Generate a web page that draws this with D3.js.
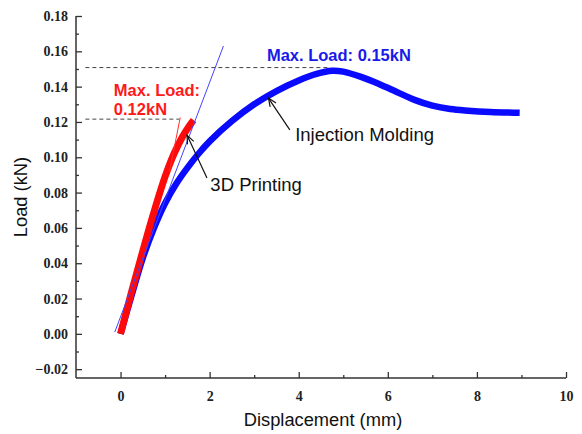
<!DOCTYPE html>
<html><head><meta charset="utf-8">
<script src="https://cdn.jsdelivr.net/npm/d3@7"></script>
<style>body{margin:0;background:#fff;} svg{display:block;}</style>
</head><body>
<svg id="c" width="582" height="434"></svg>
<script>
// Data (displacement mm, load kN)
const injectionX = [0, 0.25, 0.5, 0.75, 1.0, 1.25, 1.5, 1.75, 2.0, 2.5, 3.0, 3.5, 4.0, 4.4, 4.75, 5.0, 5.4, 5.8, 6.2, 6.6, 7.0, 7.4, 7.8, 8.3, 8.96];
const injectionY = [0, 0.022, 0.043, 0.060, 0.074, 0.085, 0.094, 0.102, 0.109, 0.1205, 0.130, 0.1375, 0.1435, 0.1472, 0.149, 0.1485, 0.1455, 0.1415, 0.137, 0.1325, 0.1292, 0.1273, 0.1264, 0.1257, 0.1252];
const printingX = [0, 0.25, 0.5, 0.75, 1.0, 1.2, 1.4, 1.55, 1.64];
const printingY = [0, 0.024, 0.047, 0.069, 0.089, 0.102, 0.112, 0.118, 0.121];
const injTangentX = [-0.13, 2.31];
const injTangentY = [0.001, 0.163];
const prtTangentX = [1.1, 1.34];
const prtTangentY = [0.092, 0.1225];
const maxInjection = 0.1508, maxPrinting = 0.1216;
const xMajor = [0, 2, 4, 6, 8, 10];
const xMinor = [1, 3, 5, 7, 9];
const yMajor = [-0.02, 0, 0.02, 0.04, 0.06, 0.08, 0.10, 0.12, 0.14, 0.16, 0.18];
const yMinor = [-0.01, 0.01, 0.03, 0.05, 0.07, 0.09, 0.11, 0.13, 0.15, 0.17];

const svg = d3.select('#c');
const m = {l: 76, r: 16, t: 16, b: 56};
const W = 582, H = 434;
const x = d3.scaleLinear().domain([-1, 10]).range([m.l, W - m.r]);
const y = d3.scaleLinear().domain([-0.025, 0.18]).range([H - m.b, m.t]);

const axisColor = '#333';
const gx = svg.append('g').attr('transform', `translate(0,${H - m.b})`);
gx.call(d3.axisBottom(x).tickValues(xMajor).tickSize(-6).tickPadding(13).tickFormat(d3.format('d')));
gx.append('g').call(d3.axisBottom(x).tickValues(xMinor).tickSize(-3).tickFormat(''));
const gy = svg.append('g').attr('transform', `translate(${m.l},0)`);
gy.call(d3.axisLeft(y).tickValues(yMajor).tickSize(-6).tickPadding(8).tickFormat(d3.format('.2f')));
gy.append('g').call(d3.axisLeft(y).tickValues(yMinor).tickSize(-3).tickFormat(''));
svg.selectAll('.domain').attr('stroke', axisColor).attr('stroke-width', 1.5);
svg.selectAll('.tick line').attr('stroke', axisColor).attr('stroke-width', 1.3);
svg.selectAll('.tick text').attr('font-family', '"Liberation Serif", serif').attr('font-weight', 'bold')
  .attr('font-size', 14).attr('fill', '#222');
gx.select('.domain').attr('d', `M${x(-1)},0H${x(10)}`);
gy.select('.domain').attr('d', `M0,${y(-0.025)}V${y(0.18)}`);
gx.selectAll('g g .domain').remove();
gy.selectAll('g g .domain').remove();

svg.append('text').attr('x', (x(-1) + x(10)) / 2 + 2).attr('y', 426).attr('text-anchor', 'middle')
  .attr('font-family', '"Liberation Sans", Arial, sans-serif').attr('font-size', 18.3).attr('fill', '#111')
  .text('Displacement (mm)');
svg.append('text').attr('transform', `translate(27,${(y(-0.025) + y(0.18)) / 2}) rotate(-90)`)
  .attr('text-anchor', 'middle').attr('font-family', '"Liberation Sans", Arial, sans-serif')
  .attr('font-size', 18.3).attr('fill', '#111').text('Load (kN)');

svg.append('line').attr('x1', x(-0.79)).attr('x2', x(4.7)).attr('y1', y(maxInjection)).attr('y2', y(maxInjection))
  .attr('stroke', '#444').attr('stroke-width', 1).attr('stroke-dasharray', '4,3');
svg.append('line').attr('x1', x(-0.79)).attr('x2', x(1.32)).attr('y1', y(maxPrinting)).attr('y2', y(maxPrinting))
  .attr('stroke', '#444').attr('stroke-width', 1).attr('stroke-dasharray', '4,3');

const line = d3.line().x(d => x(d[0])).y(d => y(d[1])).curve(d3.curveCatmullRom.alpha(0.5));
const inj = injectionX.map((v, i) => [v, injectionY[i]]);
const prt = printingX.map((v, i) => [v, printingY[i]]);

svg.append('path').attr('d', line(inj)).attr('fill', 'none').attr('stroke', '#0a0aff').attr('stroke-width', 6.5);
svg.append('path').attr('d', line(prt)).attr('fill', 'none').attr('stroke', '#ff0a0a').attr('stroke-width', 7);
const lin = d3.line().x(d => x(d[0])).y(d => y(d[1]));
svg.append('path').attr('d', lin(prtTangentX.map((v, i) => [v, prtTangentY[i]]))).attr('stroke', '#ff3030').attr('stroke-width', 1).attr('fill', 'none');
svg.append('path').attr('d', lin(injTangentX.map((v, i) => [v, injTangentY[i]]))).attr('stroke', '#4444ff').attr('stroke-width', 1).attr('fill', 'none');

const sans = '"Liberation Sans", Arial, sans-serif';
svg.append('text').attr('x', x(3.286)).attr('y', y(0.1543)).attr('font-family', sans).attr('font-weight', 'bold')
  .attr('font-size', 16.5).attr('fill', '#1a1ae8').text('Max. Load: 0.15kN');
svg.append('text').attr('x', x(-0.15)).attr('y', y(0.1348)).attr('font-family', sans).attr('font-weight', 'bold')
  .attr('font-size', 16.5).attr('fill', '#ff1a1a').text('Max. Load:');
svg.append('text').attr('x', x(-0.15)).attr('y', y(0.124)).attr('font-family', sans).attr('font-weight', 'bold')
  .attr('font-size', 16.5).attr('fill', '#ff1a1a').text('0.12kN');
svg.append('text').attr('x', x(3.92)).attr('y', y(0.1093)).attr('font-family', sans)
  .attr('font-size', 18.5).attr('fill', '#111').text('Injection Molding');
svg.append('text').attr('x', x(2.016)).attr('y', y(0.0807)).attr('font-family', sans)
  .attr('font-size', 18.5).attr('fill', '#111').text('3D Printing');

function arrow(tail, head) {
  const x1 = x(tail[0]), y1 = y(tail[1]), x2 = x(head[0]), y2 = y(head[1]);
  svg.append('line').attr('x1', x1).attr('y1', y1).attr('x2', x2).attr('y2', y2).attr('stroke', '#111').attr('stroke-width', 1.2);
  const a = Math.atan2(y1 - y2, x1 - x2), L = 9, s = 0.4;
  const p = d => [x2 + L * Math.cos(a + d), y2 + L * Math.sin(a + d)];
  const p1 = p(s), p2 = p(-s);
  svg.append('path').attr('d', `M${p1}L${x2},${y2}L${p2}`).attr('fill', 'none').attr('stroke', '#111').attr('stroke-width', 1.2);
}
arrow([3.80, 0.1155], [3.32, 0.1335]);
arrow([1.94, 0.0882], [1.494, 0.1124]);
</script>
</body></html>
